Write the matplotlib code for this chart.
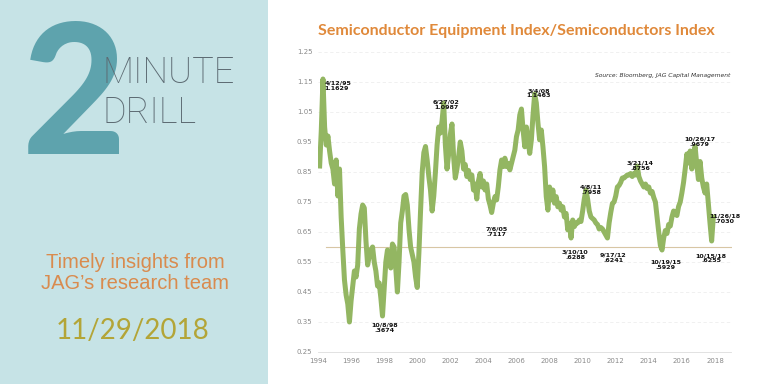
import matplotlib.pyplot as plt
import matplotlib.patches as patches
import numpy as np

# Equipment / semis ratio, sampled about every 5 weeks (axis years as drawn)
ratio_94 = [0.87, 0.99, 1.16, 1.00, 0.94, 0.97, 0.92, 0.88, 0.86, 0.81,
            0.89, 0.77, 0.86, 0.70, 0.59, 0.49, 0.44, 0.41, 0.35, 0.42,
            0.47, 0.52, 0.50, 0.54, 0.66, 0.71, 0.74, 0.73, 0.62, 0.54,
            0.57, 0.59, 0.60, 0.55, 0.52, 0.47, 0.48, 0.43, 0.37, 0.46,
            0.55, 0.59, 0.55, 0.53, 0.61, 0.60, 0.53, 0.45, 0.55, 0.68,
            0.72, 0.77]
ratio_99 = [0.775, 0.74, 0.66, 0.60, 0.575, 0.55, 0.50, 0.465, 0.58, 0.72,
            0.85, 0.915, 0.935, 0.89, 0.835, 0.79, 0.72, 0.77, 0.85, 0.94,
            1.00, 0.98, 1.02, 1.08, 0.94, 0.86, 0.91, 0.975, 1.01, 0.90,
            0.83, 0.86, 0.90, 0.95, 0.92, 0.86, 0.875, 0.835, 0.855, 0.825,
            0.84, 0.79, 0.81, 0.76, 0.82, 0.845, 0.80, 0.82, 0.79, 0.81,
            0.76]
ratio_04 = [0.74, 0.715, 0.746, 0.768, 0.757, 0.80, 0.857, 0.89, 0.868, 0.896,
            0.868, 0.879, 0.857, 0.879, 0.90, 0.923, 0.968, 0.99, 1.04, 1.06,
            0.99, 0.934, 1.00, 0.957, 0.912, 0.957, 1.04, 1.11, 1.08, 1.012,
            0.957, 0.99, 0.934, 0.868, 0.768, 0.723, 0.80, 0.757, 0.79, 0.746,
            0.768, 0.734, 0.746, 0.723, 0.734, 0.70, 0.712, 0.657, 0.679, 0.63,
            0.69, 0.668]
ratio_09 = [0.68, 0.68, 0.69, 0.685, 0.72, 0.76, 0.79, 0.76, 0.72, 0.70,
            0.695, 0.69, 0.68, 0.675, 0.66, 0.665, 0.66, 0.65, 0.64, 0.63,
            0.68, 0.715, 0.745, 0.75, 0.77, 0.80, 0.805, 0.815, 0.83, 0.83,
            0.835, 0.84, 0.84, 0.845, 0.835, 0.845, 0.84, 0.87, 0.835, 0.82,
            0.81, 0.80, 0.81, 0.795, 0.80, 0.78, 0.785, 0.765, 0.75]
ratio_14 = [0.70, 0.65, 0.605, 0.59, 0.63, 0.655, 0.645, 0.675, 0.67, 0.70,
            0.72, 0.71, 0.705, 0.735, 0.75, 0.78, 0.815, 0.86, 0.91, 0.88,
            0.92, 0.86, 0.91, 0.935, 0.875, 0.825, 0.885, 0.83, 0.80, 0.78,
            0.81, 0.745, 0.68, 0.62, 0.70]
block_starts = [1994.1, 1999.3, 2004.4, 2009.6, 2014.5]
blocks = [ratio_94, ratio_99, ratio_04, ratio_09, ratio_14]

# labelled highs / lows: (date text, value text, x, y, align)
callouts = [
    ('4/12/95', '1.1629', 1994.38, 1.155, 'left'),
    ('6/27/02', '1.0987', 2001.74, 1.09, 'center'),
    ('3/4/08', '1.1463', 2007.36, 1.13, 'center'),
    ('10/8/98', '.3674', 1998.02, 0.347, 'center'),
    ('7/6/05', '.7117', 2004.8, 0.667, 'center'),
    ('3/10/10', '.6288', 2009.56, 0.59, 'center'),
    ('4/8/11', '.7958', 2010.5, 0.807, 'center'),
    ('9/17/12', '.6241', 2011.84, 0.583, 'center'),
    ('3/21/14', '.8756', 2013.47, 0.887, 'center'),
    ('10/19/15', '.5929', 2015.01, 0.557, 'center'),
    ('10/26/17', '.9679', 2017.07, 0.967, 'center'),
    ('10/15/18', '.6255', 2017.76, 0.58, 'center'),
    ('11/26/18', '.7030', 2018.59, 0.713, 'center'),
]
year_ticks = list(range(1994, 2019, 2))
ratio_ticks = [0.25, 0.35, 0.45, 0.55, 0.65, 0.75, 0.85, 0.95, 1.05, 1.15, 1.25]

xs = np.concatenate([s + 0.1 * np.arange(len(v)) for s, v in zip(block_starts, blocks)])
ys = np.concatenate(blocks)

fig = plt.figure(figsize=(7.68, 3.84), dpi=100)
fig.patch.set_facecolor('white')

# left info panel
fig.patches.append(patches.Rectangle((0, 0), 268 / 768, 1, transform=fig.transFigure,
                                     facecolor='#c6e3e6', edgecolor='none', zorder=0))
fig.text(0.028, 0.598, '2', fontsize=130, fontweight='black', family='Lato',
         color='#5ea3ad', ha='left', va='baseline')
fig.text(0.133, 0.784, 'MINUTE', fontsize=26, fontweight='light', family='Roboto',
         color='#5d6b73', ha='left', va='baseline')
fig.text(0.133, 0.680, 'DRILL', fontsize=26, fontweight='light', family='Roboto',
         color='#5d6b73', ha='left', va='baseline')
fig.text(0.176, 0.289, 'Timely insights from\nJAG\u2019s research team', fontsize=14.5,
         family='Liberation Sans', color='#d98b4e', ha='center', va='center',
         linespacing=1.12)
fig.text(0.172, 0.118, '11/29/2018', fontsize=20, fontweight='normal', family='Lato',
         color='#b3a537', ha='center', va='baseline')

# chart
ax = fig.add_axes([318 / 768, 32 / 384, 413.5 / 768, 300 / 384])
ax.set_xlim(1994, 2019)
ax.set_ylim(0.25, 1.25)

ax.plot(xs, ys, color='#93b662', lw=3.6, solid_joinstyle='round', zorder=3)
ax.axhline(0.60, xmin=0.02, xmax=1.0, color='#d8c6a4', lw=0.8, zorder=2)

for d, v, x, y, ha in callouts:
    ax.text(x, y, d + '\n' + v, fontsize=4.6, fontweight='bold', ha=ha, va='top',
            linespacing=1.1, color='#111111', zorder=4)

ax.set_xticks(year_ticks)
ax.set_yticks(ratio_ticks)
ax.set_yticklabels(['%.2f' % t for t in ratio_ticks])
ax.tick_params(length=0, labelsize=5, labelcolor='#8a8a8a', pad=4)
ax.grid(axis='y', color='#eeeeee', lw=0.6, ls=(0, (4, 3)))
for side in ['top', 'right', 'left']:
    ax.spines[side].set_visible(False)
ax.spines['bottom'].set_color('#dddddd')
ax.spines['bottom'].set_linewidth(0.6)

fig.text(516 / 768, 1 - 31 / 384, 'Semiconductor Equipment Index/Semiconductors Index',
         fontsize=11.5, fontweight='bold', family='Lato', color='#e0893a',
         ha='center', va='center')
fig.text(730 / 768, 1 - 76 / 384, 'Source: Bloomberg, JAG Capital Management',
         fontsize=4.3, style='italic', color='#333333', ha='right', va='center')

fig.savefig('out.png', dpi=100)
